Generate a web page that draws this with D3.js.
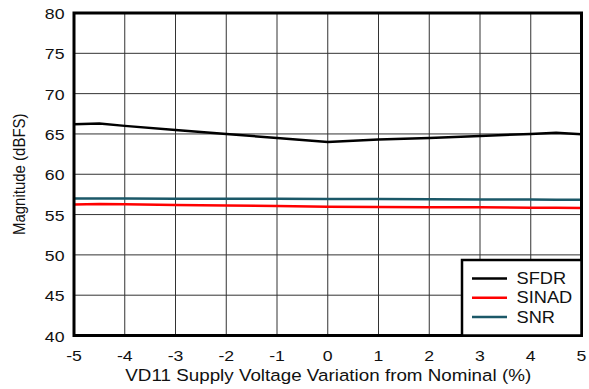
<!DOCTYPE html>
<html>
  <head>
    <meta charset="utf-8" />
    <script src="https://d3js.org/d3.v7.min.js"></script>
    <style>
      body { margin: 0; background: #fff; }
      text { font-family: Arial, "Liberation Sans", sans-serif; fill: #111; }
    </style>
  </head>
  <body>
    <svg id="chart" width="589" height="389"></svg>
    <script>

      // data
      var xValues   = [-5, -4.5, -4, -3, -2, -1, 0, 1, 2, 3, 4, 4.5, 5];
      var sfdr      = [66.2, 66.3, 66.0, 65.5, 65.0, 64.5, 64.0, 64.3, 64.5, 64.75, 65.0, 65.15, 64.95];
      var sinad     = [56.25, 56.3, 56.28, 56.2, 56.12, 56.05, 55.98, 55.95, 55.92, 55.9, 55.85, 55.84, 55.82];
      var snr       = [56.98, 56.98, 56.98, 56.97, 56.96, 56.95, 56.94, 56.92, 56.9, 56.88, 56.86, 56.85, 56.84];
      var seriesNames  = ["SFDR", "SINAD", "SNR"];
      var seriesColors = ["#000000", "#ff0000", "#1b5868"];
      var xTicks = [-5, -4, -3, -2, -1, 0, 1, 2, 3, 4, 5];
      var yTicks = [40, 45, 50, 55, 60, 65, 70, 75, 80];

      var svg = d3.select("#chart");
      var plotLeft = 74, plotRight = 581.5, plotTop = 13, plotBottom = 335.5;
      var stretch = 1.14; // the reference glyphs are a bit wide

      var x = d3.scaleLinear().domain([-5, 5]).range([plotLeft, plotRight]);
      var y = d3.scaleLinear().domain([40, 80]).range([plotBottom, plotTop]);

      function at(px, py) {
        return "translate(" + px + "," + py + ") scale(" + stretch + ",1)";
      }

      // grid
      svg.append("g").selectAll("line")
        .data(xTicks.slice(1, -1))
        .enter().append("line")
        .attr("x1", function(d) { return x(d); })
        .attr("x2", function(d) { return x(d); })
        .attr("y1", plotTop).attr("y2", plotBottom)
        .attr("stroke", "#333").attr("stroke-width", 1);

      svg.append("g").selectAll("line")
        .data(yTicks.slice(1, -1))
        .enter().append("line")
        .attr("y1", function(d) { return y(d); })
        .attr("y2", function(d) { return y(d); })
        .attr("x1", plotLeft).attr("x2", plotRight)
        .attr("stroke", "#333").attr("stroke-width", 1);

      // tick labels
      svg.append("g").selectAll("text")
        .data(yTicks)
        .enter().append("text")
        .attr("transform", function(d) { return at(plotLeft - 9.5, y(d) + 6); })
        .attr("text-anchor", "end")
        .attr("font-size", 15.5)
        .text(function(d) { return d; });

      svg.append("g").selectAll("text")
        .data(xTicks)
        .enter().append("text")
        .attr("transform", function(d) { return at(x(d), 360.5); })
        .attr("text-anchor", "middle")
        .attr("font-size", 15.5)
        .text(function(d) { return d; });

      // axis titles
      svg.append("text")
        .attr("transform", at((plotLeft + plotRight) / 2 + 0.5, 380.5))
        .attr("text-anchor", "middle")
        .attr("font-size", 16.5)
        .text("VD11 Supply Voltage Variation from Nominal (%)");

      svg.append("text")
        .attr("transform", "translate(24.5," + ((plotTop + plotBottom) / 2) + ") rotate(-90) scale(1,1.08)")
        .attr("text-anchor", "middle")
        .attr("font-size", 15)
        .text("Magnitude (dBFS)");

      // lines
      var allSeries = [sfdr, sinad, snr];
      var line = d3.line()
        .x(function(d, i) { return x(xValues[i]); })
        .y(function(d) { return y(d); });

      svg.append("g").selectAll("path")
        .data(allSeries.slice().reverse())
        .enter().append("path")
        .attr("d", line)
        .attr("fill", "none")
        .attr("stroke", function(d, i) { return seriesColors[2 - i]; })
        .attr("stroke-width", 2.5);

      // frame
      svg.append("rect")
        .attr("x", plotLeft).attr("y", plotTop)
        .attr("width", plotRight - plotLeft).attr("height", plotBottom - plotTop)
        .attr("fill", "none").attr("stroke", "#000").attr("stroke-width", 3);

      // legend
      var lg = svg.append("g");
      lg.append("rect")
        .attr("x", 462).attr("y", 260)
        .attr("width", plotRight - 462).attr("height", plotBottom - 260)
        .attr("fill", "#fff").attr("stroke", "#000").attr("stroke-width", 2.5);

      var items = lg.selectAll("g.item")
        .data(seriesNames)
        .enter().append("g")
        .attr("class", "item")
        .attr("transform", function(d, i) { return "translate(0," + (278.5 + i * 19.2) + ")"; });

      items.append("line")
        .attr("x1", 472).attr("x2", 507)
        .attr("stroke", function(d, i) { return seriesColors[i]; })
        .attr("stroke-width", 2.5);

      items.append("text")
        .attr("transform", at(516.5, 5.7))
        .attr("font-size", 16)
        .text(function(d) { return d; });

    </script>
  </body>
</html>
